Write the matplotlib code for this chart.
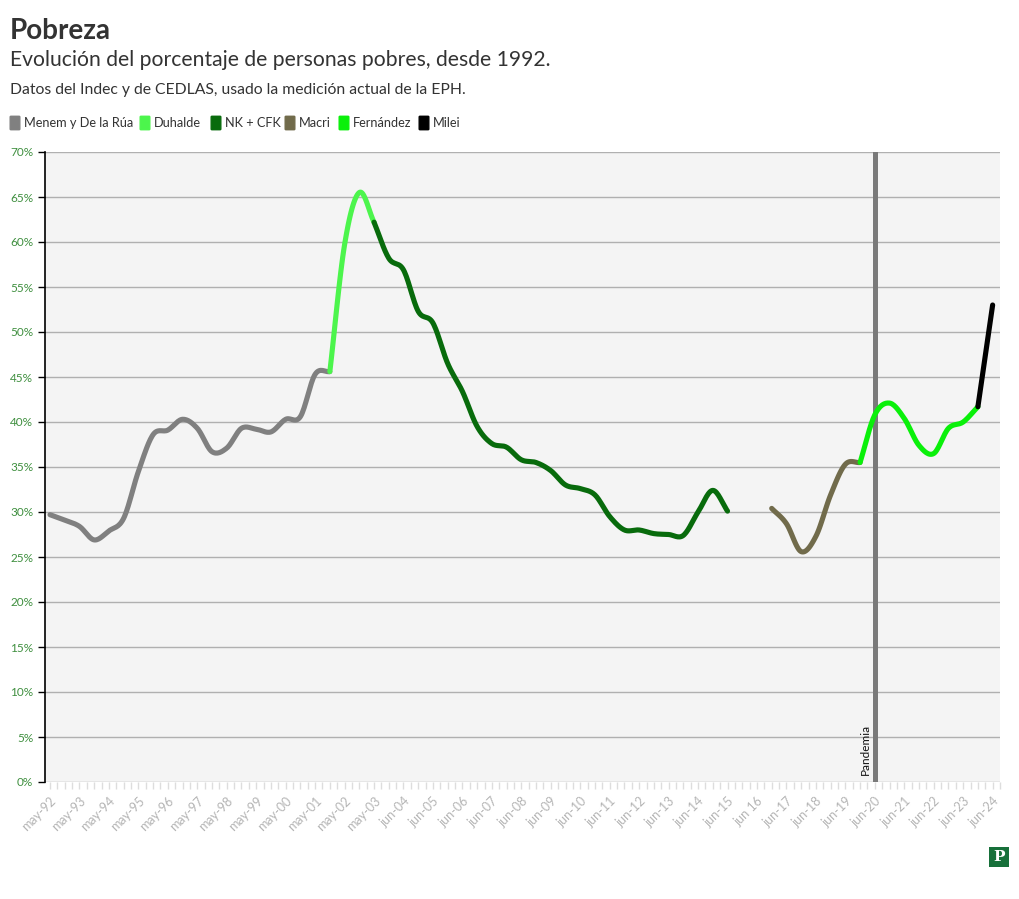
import numpy as np
import matplotlib
matplotlib.use("Agg")
import matplotlib.pyplot as plt
from matplotlib.patches import FancyBboxPatch, Rectangle

# ---------------- data ----------------
tick_labels = ["may-92", "may-93", "may-94", "may-95", "may-96", "may-97", "may-98",
               "may-99", "may-00", "may-01", "may-02", "may-03", "jun-04", "jun-05",
               "jun-06", "jun-07", "jun-08", "jun-09", "jun-10", "jun-11", "jun-12",
               "jun-13", "jun-14", "jun-15", "jun 16", "jun-17", "jun-18", "jun-19",
               "jun-20", "jun-21", "jun-22", "jun-23", "jun-24"]

menem_start = 0
menem = [29.7, 29.1, 28.4, 26.9, 27.9, 29.3, 34.5, 38.6, 39.1, 40.3, 39.3, 36.7,
         37.1, 39.3, 39.2, 38.9, 40.3, 40.6, 45.3, 45.6]
duhalde_start = 19
duhalde = [45.6, 59.7, 65.5, 62.2]
nk_start = 22
nk = [62.2, 58.2, 56.9, 52.3, 51.0, 46.5, 43.4, 39.5, 37.6, 37.2, 35.8, 35.5, 34.6,
      33.0, 32.6, 31.9, 29.5, 28.0, 28.0, 27.6, 27.5, 27.4, 30.0, 32.4, 30.1]
macri_start = 49
macri = [30.4, 28.7, 25.6, 27.3, 31.9, 35.3, 35.5]
fernandez_start = 55
fernandez = [35.5, 40.8, 42.1, 40.4, 37.4, 36.5, 39.3, 40.0, 41.7]
milei_start = 63
milei = [41.7, 53.0]

pandemia_idx = 56

series = [
    ("Menem y De la Rúa", menem_start, menem, "#808080"),
    ("Duhalde", duhalde_start, duhalde, "#4cf54c"),
    ("NK + CFK", nk_start, nk, "#086b0c"),
    ("Macri", macri_start, macri, "#716b4b"),
    ("Fernández", fernandez_start, fernandez, "#0af00a"),
    ("Milei", milei_start, milei, "#000000"),
]

FONT = ["Lato", "DejaVu Sans"]
plt.rcParams["font.family"] = FONT


def smooth(x, y, n=16):
    x = np.asarray(x, float)
    y = np.asarray(y, float)
    if len(x) < 3:
        return x, y
    px = np.concatenate([[2 * x[0] - x[1]], x, [2 * x[-1] - x[-2]]])
    py = np.concatenate([[2 * y[0] - y[1]], y, [2 * y[-1] - y[-2]]])
    ox, oy = [], []
    t = np.linspace(0, 1, n, endpoint=False)
    for i in range(1, len(px) - 2):
        p0, p1, p2, p3 = py[i - 1], py[i], py[i + 1], py[i + 2]
        q0, q1, q2, q3 = px[i - 1], px[i], px[i + 1], px[i + 2]
        f = lambda a0, a1, a2, a3: 0.5 * ((2 * a1) + (-a0 + a2) * t +
                                        (2 * a0 - 5 * a1 + 4 * a2 - a3) * t ** 2 +
                                        (-a0 + 3 * a1 - 3 * a2 + a3) * t ** 3)
        ox.append(f(q0, q1, q2, q3))
        oy.append(f(p0, p1, p2, p3))
    ox.append([x[-1]])
    oy.append([y[-1]])
    return np.concatenate(ox), np.concatenate(oy)


fig = plt.figure(figsize=(10.2, 8.99), dpi=100)
ax = fig.add_axes([45 / 1020, 1 - 782 / 899, 955 / 1020, 630 / 899])
ax.set_facecolor("#f4f4f4")

for name, start, vals, col in series:
    xs = np.arange(start, start + len(vals))
    sx, sy = smooth(xs, vals)
    ax.plot(sx, sy, color=col, lw=3.7, solid_capstyle="round", solid_joinstyle="round", zorder=3)

ax.axvline(pandemia_idx, color="#7a7a7a", lw=3.6, zorder=2)
ax.text(pandemia_idx - 0.3, 0.8, "Pandemia", rotation=90, ha="right", va="bottom",
        fontsize=8.5, color="#111111", zorder=4)

ax.set_xlim(-0.34, 64.5)
ax.set_ylim(0, 70)
ax.set_yticks(np.arange(0, 71, 5))
ax.set_yticklabels([f"{v}%" for v in range(0, 71, 5)])
ax.yaxis.grid(True, color="#b0b0b0", lw=1)
ax.set_axisbelow(True)
for s in ["top", "right", "bottom"]:
    ax.spines[s].set_visible(False)
ax.spines["left"].set_color("#000000")
ax.spines["left"].set_linewidth(1.2)
ax.tick_params(axis="y", colors="#000000", labelcolor="#3f8f3f", labelsize=8.5, length=5, width=1)

major = np.arange(0, 65, 2)
ax.set_xticks(major)
ax.set_xticklabels(tick_labels, rotation=45, ha="right", rotation_mode="anchor")
ax.set_xticks(np.arange(0, 64.6, 0.5), minor=True)
ax.tick_params(axis="x", which="both", colors="#dddddd", labelcolor="#b5b5b5",
               labelsize=9, length=5, width=1, pad=4)

# titles
fig.text(10 / 1020, 1 - 39 / 899, "Pobreza", fontsize=20, fontweight="bold", color="#333333")
fig.text(10 / 1020, 1 - 66 / 899, "Evolución del porcentaje de personas pobres, desde 1992.",
         fontsize=15.2, color="#333333")
fig.text(10 / 1020, 1 - 94 / 899, "Datos del Indec y de CEDLAS, usado la medición actual de la EPH.",
         fontsize=11.3, color="#333333")

# legend
leg_x = [11, 141, 212, 286, 340, 420]
for (name, start, vals, col), lx in zip(series, leg_x):
    fig.patches.append(FancyBboxPatch((lx / 1020, 1 - 129 / 899), 8 / 1020, 12 / 899,
                                      boxstyle="round,pad=0.0008", transform=fig.transFigure,
                                      facecolor=col, edgecolor=col, figure=fig))
    fig.text((lx + 13) / 1020, 1 - 123 / 899, name, fontsize=9.2, color="#333333", va="center")

# logo
fig.patches.append(Rectangle((989 / 1020, 1 - 867 / 899), 20 / 1020, 20 / 899,
                             transform=fig.transFigure, facecolor="#17703a",
                             edgecolor="none", figure=fig))
fig.text(999 / 1020, 1 - 857 / 899, "P", fontsize=11, fontweight="bold", color="white",
         family=["DejaVu Serif"], ha="center", va="center")

fig.savefig("out.png", dpi=100, facecolor="white")
